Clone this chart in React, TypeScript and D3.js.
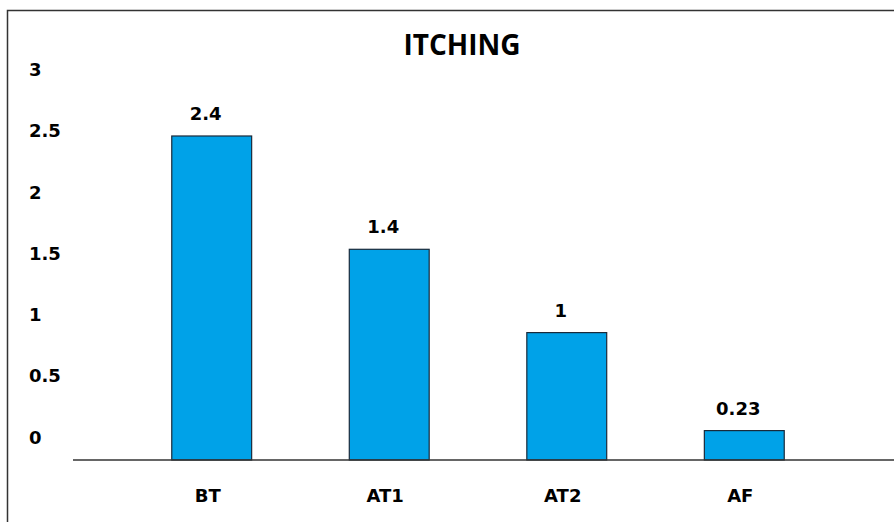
import React, { useRef, useEffect } from 'react';
import * as d3 from 'd3';

// categories and values shown on the chart
const categories = ['BT', 'AT1', 'AT2', 'AF'];
const valueLabels = ['2.4', '1.4', '1', '0.23'];
// bar heights as drawn in the picture (axis units)
const barHeights = [2.645, 1.72, 1.04, 0.24];
const yTicks = [0, 0.5, 1, 1.5, 2, 2.5, 3];
const title = 'ITCHING';

const W = 894;
const H = 522;

const App = () => {
    const ref = useRef<SVGSVGElement>(null);

    useEffect(() => {
        const svg = d3.select(ref.current);
        svg.selectAll('*').remove();

        const baseline = 460;
        const font = '"DejaVu Sans", Verdana, sans-serif';

        const yScale = d3.scaleLinear().domain([0, 3]).range([baseline, 92.5]);
        const xScale = d3.scaleBand<string>()
            .domain(categories)
            .range([83, 873])
            .paddingInner(0.55)
            .paddingOuter(0.5);

        // white background + frame
        svg.append('rect').attr('width', W).attr('height', H).attr('fill', '#fff');
        svg.append('rect')
            .attr('x', 7.5).attr('y', 10.5)
            .attr('width', 1000).attr('height', 1000)
            .attr('fill', 'none')
            .attr('stroke', '#333')
            .attr('stroke-width', 1.5);

        // title
        svg.append('text')
            .attr('x', 462).attr('y', 55)
            .attr('text-anchor', 'middle')
            .style('font-family', '"Open Sans", sans-serif')
            .style('font-weight', 700)
            .style('font-size', '28px')
            .attr('fill', '#000')
            .text(title);

        // y tick labels (drawn above their positions, like the original)
        svg.append('g')
            .selectAll('text')
            .data(yTicks)
            .enter()
            .append('text')
            .attr('x', 29)
            .attr('y', d => yScale(d) - 16.5)
            .style('font-family', font)
            .style('font-weight', 700)
            .style('font-size', '18px')
            .attr('fill', '#000')
            .text(d => String(d));

        // bars
        svg.append('g')
            .selectAll('rect')
            .data(categories)
            .enter()
            .append('rect')
            .attr('x', d => xScale(d)!)
            .attr('y', (d, i) => yScale(barHeights[i]))
            .attr('width', xScale.bandwidth())
            .attr('height', (d, i) => baseline - yScale(barHeights[i]))
            .attr('fill', '#00A2E8')
            .attr('stroke', '#1a2a3a')
            .attr('stroke-width', 1.2);

        // value labels
        svg.append('g')
            .selectAll('text')
            .data(categories)
            .enter()
            .append('text')
            .attr('x', d => xScale(d)! + xScale.bandwidth() / 2 - 6)
            .attr('y', (d, i) => yScale(barHeights[i]) - 16)
            .attr('text-anchor', 'middle')
            .style('font-family', font)
            .style('font-weight', 700)
            .style('font-size', '18px')
            .attr('fill', '#000')
            .text((d, i) => valueLabels[i]);

        // x axis line
        svg.append('line')
            .attr('x1', 73).attr('x2', W)
            .attr('y1', baseline).attr('y2', baseline)
            .attr('stroke', '#333')
            .attr('stroke-width', 1.5);

        // category labels
        svg.append('g')
            .selectAll('text')
            .data(categories)
            .enter()
            .append('text')
            .attr('x', d => xScale(d)! + xScale.bandwidth() / 2 - 4)
            .attr('y', 502)
            .attr('text-anchor', 'middle')
            .style('font-family', font)
            .style('font-weight', 700)
            .style('font-size', '18px')
            .attr('fill', '#000')
            .text(d => d);
    }, []);

    return (
        <svg
            ref={ref}
            width={W}
            height={H}
            style={{ position: 'absolute', left: 0, top: 0, display: 'block' }}
        ></svg>
    );
};

export default App;
